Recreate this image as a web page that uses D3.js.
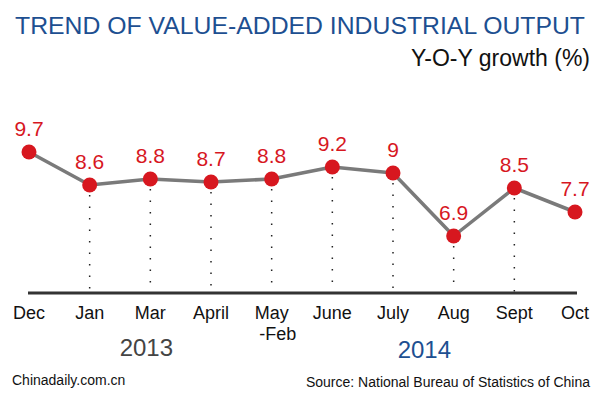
<!DOCTYPE html>
<html>
<head>
<meta charset="utf-8">
<script src="https://cdn.jsdelivr.net/npm/d3@7"></script>
<style>
  html, body { margin: 0; padding: 0; background: #fff; }
  svg { display: block; font-family: "Liberation Sans", Arial, sans-serif; }
</style>
</head>
<body>
<svg id="chart" width="600" height="397"></svg>
<script>
const categories = ["Dec", "Jan", "Mar", "April", "May\n-Feb", "June", "July", "Aug", "Sept", "Oct"];
const values = [9.7, 8.6, 8.8, 8.7, 8.8, 9.2, 9, 6.9, 8.5, 7.7];
const valueLabels = ["9.7", "8.6", "8.8", "8.7", "8.8", "9.2", "9", "6.9", "8.5", "7.7"];
const yearLabels = ["2013", "2014"];
const titleText = "TREND OF VALUE-ADDED INDUSTRIAL OUTPUT";
const unitText = "Y-O-Y growth (%)";
const creditText = "Chinadaily.com.cn";
const sourceText = "Source: National Bureau of Statistics of China";

const svg = d3.select("#chart");
const blue = "#1d4f91";
const red = "#d7171f";

const x = d3.scalePoint().domain(categories).range([29, 575]);
const y = d3.scaleLinear().domain([5, 10]).range([293, 143]);

// Title
svg.append("text").attr("x", 15).attr("y", 34)
  .attr("font-size", 24).attr("fill", blue)
  .attr("textLength", 570).attr("lengthAdjust", "spacingAndGlyphs")
  .text(titleText);
svg.append("text").attr("x", 590).attr("y", 66)
  .attr("text-anchor", "end").attr("font-size", 23).attr("fill", "#111")
  .text(unitText);

// Dotted guides (not for first and last)
const data = categories.map((c, i) => ({ c, v: values[i], l: valueLabels[i], i }));
svg.append("g").selectAll("line").data(data.filter(d => d.i > 0 && d.i < categories.length - 1))
  .join("line")
  .attr("x1", d => x(d.c)).attr("x2", d => x(d.c))
  .attr("y1", d => y(d.v) + 10).attr("y2", y(5) - 1)
  .attr("stroke", "#222").attr("stroke-width", 1.5)
  .attr("stroke-dasharray", "1.5,10");

// Axis line
const axis = d3.axisBottom(x).tickSize(0).tickFormat("");
const axisG = svg.append("g").attr("transform", `translate(0,${y(5)})`).call(axis);
axisG.select(".domain").attr("stroke", "#333").attr("stroke-width", 3)
  .attr("d", `M${x(categories[0]) - 1},0H${x(categories[categories.length - 1]) + 2}`);

// Category labels
const catG = svg.append("g");
data.forEach(d => {
  const t = catG.append("text").attr("text-anchor", "middle").attr("font-size", 18).attr("fill", "#111");
  d.c.split("\n").forEach((part, k) => {
    t.append("tspan").attr("x", x(d.c) + (k > 0 ? 6 : 0)).attr("y", 319 + k * 21).text(part);
  });
});

// Years
svg.append("text").attr("x", x("Mar") - 4).attr("y", 356)
  .attr("text-anchor", "middle").attr("font-size", 24).attr("fill", "#444").text(yearLabels[0]);
svg.append("text").attr("x", (x("July") + x("Aug")) / 2 + 1).attr("y", 358)
  .attr("text-anchor", "middle").attr("font-size", 24).attr("fill", blue).text(yearLabels[1]);

// Line
const line = d3.line().x(d => x(d.c)).y(d => y(d.v));
svg.append("path").datum(data).attr("d", line)
  .attr("fill", "none").attr("stroke", "#7a7a7a").attr("stroke-width", 3.5)
  .attr("stroke-linejoin", "round");

// Points
svg.append("g").selectAll("circle").data(data).join("circle")
  .attr("cx", d => x(d.c)).attr("cy", d => y(d.v)).attr("r", 7.5)
  .attr("fill", red);

// Value labels
svg.append("g").selectAll("text").data(data).join("text")
  .attr("x", d => x(d.c)).attr("y", d => y(d.v) - 16)
  .attr("text-anchor", "middle").attr("font-size", 21).attr("fill", red)
  .text(d => d.l);

// Footer
svg.append("text").attr("x", 12).attr("y", 385).attr("font-size", 14).attr("fill", "#111").text(creditText);
svg.append("text").attr("x", 590).attr("y", 387).attr("text-anchor", "end")
  .attr("font-size", 14).attr("fill", "#111").text(sourceText);
</script>
</body>
</html>
